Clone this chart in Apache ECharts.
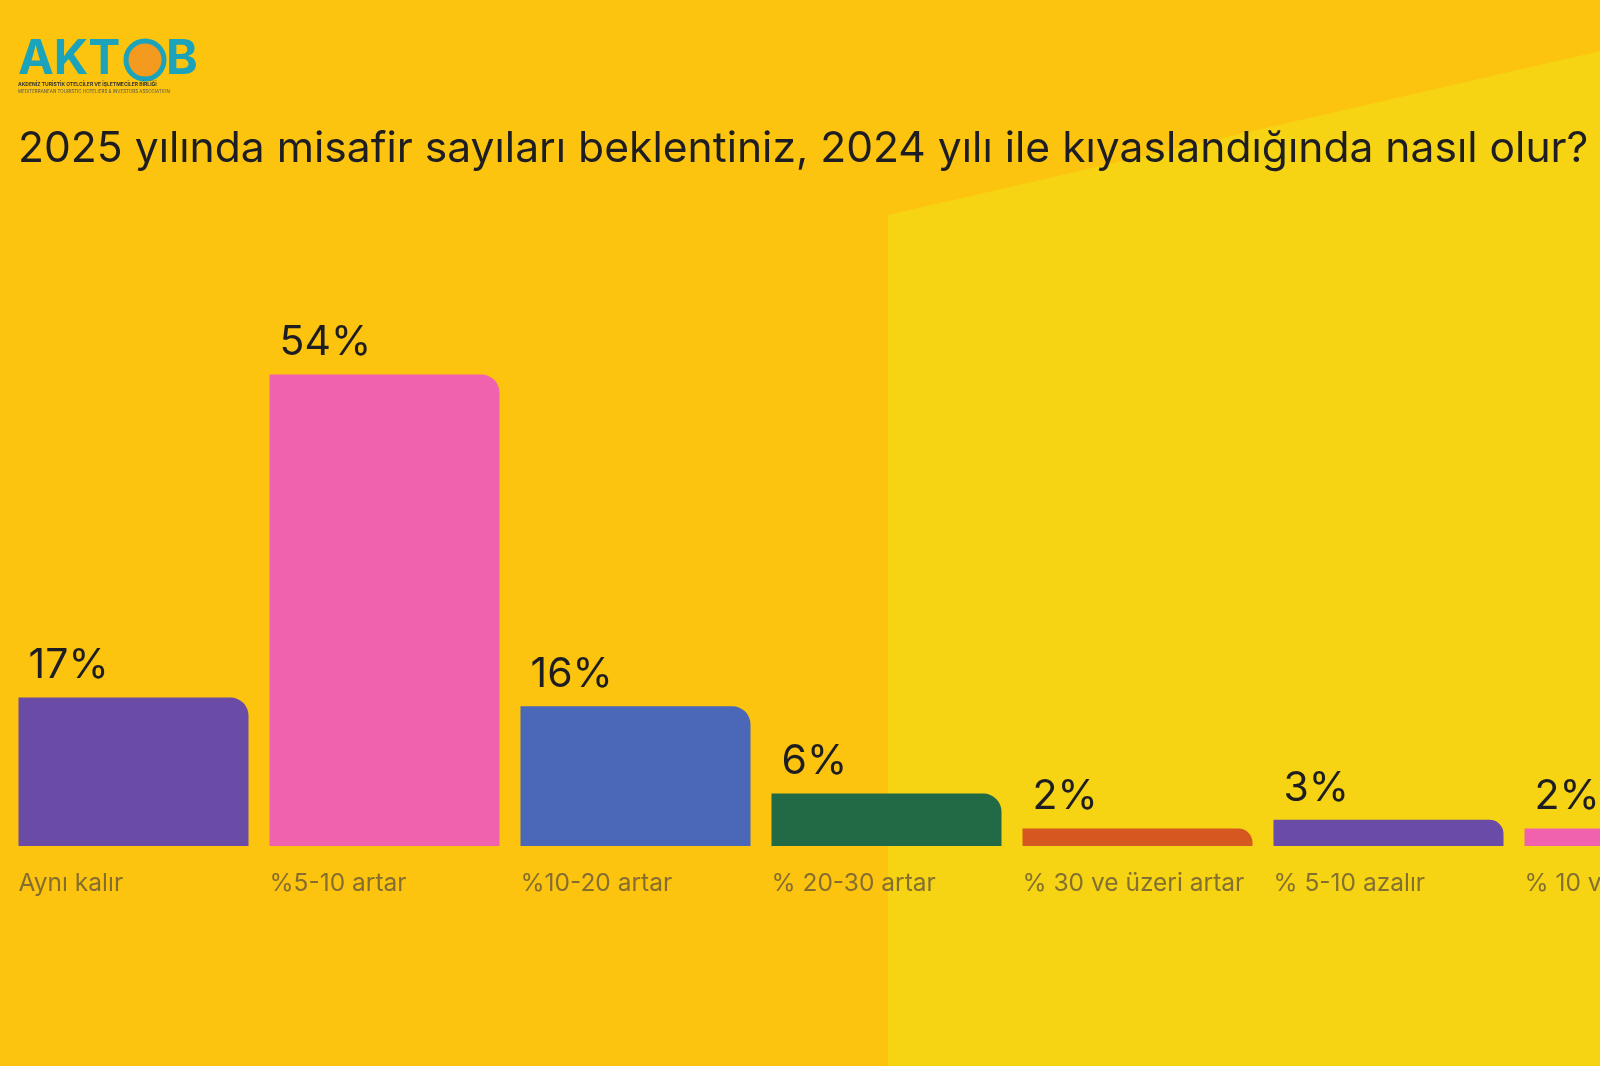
<!DOCTYPE html>
<html><head><meta charset="utf-8">
<script src="https://cdn.jsdelivr.net/npm/echarts@6/dist/echarts.min.js"></script>
<style>html,body{margin:0;padding:0;background:#fcc40e;overflow:hidden;width:1600px;height:1066px}#c{width:1800px;height:1066px}</style>
</head><body><div id="c"></div>
<script>
const categories = ['Aynı kalır','%5-10 artar','%10-20 artar','% 20-30 artar','% 30 ve üzeri artar','% 5-10 azalır','% 10 ve üzeri azalır'];
const values = [17, 54, 16, 6, 2, 3, 2];
const colors = ['#6a4ba6','#f062ae','#4b67b8','#226a45','#d4581f','#6a4ba6','#f062ae'];
const chart = echarts.init(document.getElementById('c'));
const F = 'Inter, "Noto Sans", sans-serif';
chart.setOption({
  backgroundColor: '#fcc40e',
  graphic: [
    {type:'polygon', z:-10, shape:{points:[[888,215],[1800,5],[1800,1066],[888,1066]]}, style:{fill:'#f6d313'}},
    {type:'text', left:18, top:36, style:{text:'AKT', font:'bold 48px '+F, fill:'#1aa3ba'}},
    {type:'circle', shape:{cx:145, cy:60, r:19}, style:{fill:'#f49a1e', stroke:'#1aa3ba', lineWidth:5}},
    {type:'text', left:166, top:36, style:{text:'B', font:'bold 48px '+F, fill:'#1aa3ba'}},
    {type:'text', left:18, top:82, style:{text:'AKDENİZ TURİSTİK OTELCİLER VE İŞLETMECİLER BİRLİĞİ', font:'bold 5px '+F, fill:'#333'}},
    {type:'text', left:18, top:89, style:{text:'MEDITERRANEAN TOURISTIC HOTELIERS & INVESTORS ASSOCIATION', font:'4.5px '+F, fill:'#555'}},
    {type:'text', left:18, top:128, style:{text:'2025 yılında misafir sayıları beklentiniz, 2024 yılı ile kıyaslandığında nasıl olur?', font:'42.6px '+F, fill:'#1e1e22'}}
  ],
  grid: {left: 8, width: 1757, top: 200, bottom: 220, containLabel: false},
  xAxis: {type:'category', data: categories, axisLine:{show:false}, axisTick:{show:false}, axisLabel:{show:false}},
  yAxis: {type:'value', min:0, max:74, show:false, splitLine:{show:false}},
  series: [
    {type:'bar', barWidth:230, data: values.map((v,i)=>({value:v, itemStyle:{color:colors[i], borderRadius:[0, v<4?14:18, 0, 0]}})),
     label:{show:true, position:[10,-52], formatter:'{c}%', fontFamily:F, fontSize:41, color:'#1e1e22'}},
    {type:'scatter', symbolSize:0, data: values.map(()=>0), silent:true,
     label:{show:true, formatter:p=>categories[p.dataIndex], offset:[-115, 38], align:'left', verticalAlign:'middle', position:'inside', fontFamily:F, fontSize:24.5, color:'#66583a'}}
  ]
});
</script></body></html>
